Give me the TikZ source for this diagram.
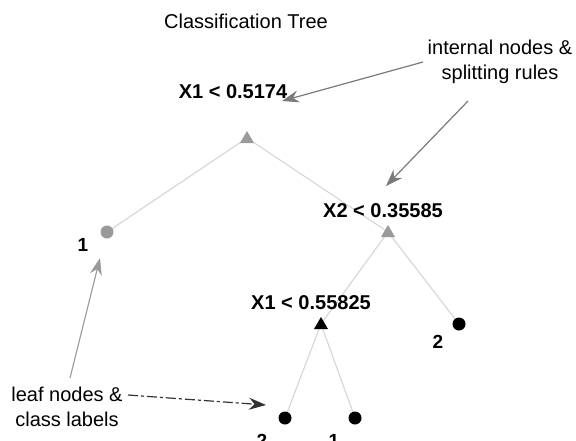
\documentclass[tikz,border=0pt]{standalone}
\usepackage{fontspec}
\setmainfont{Liberation Sans}
\usetikzlibrary{arrows.meta,calc}
\definecolor{edgegray}{HTML}{D8D8D8}
\definecolor{midgray}{HTML}{9A9A9A}
\definecolor{arrgray}{HTML}{7A7A7A}
\tikzset{
  rule/.style={font=\fontsize{20}{24}\selectfont\bfseries, inner sep=0pt},
  leaflab/.style={font=\fontsize{19}{22}\selectfont\bfseries, inner sep=0pt},
  note/.style={font=\fontsize{20}{25}\selectfont, align=center, inner sep=0pt},
  leaf/.style={circle, fill=#1, inner sep=0pt, minimum size=13pt},
  edge/.style={draw=edgegray, line width=1.2pt},
  ann/.style={draw=#1, line width=1.2pt, -{Stealth[length=17pt,width=12pt]}},
}
\begin{document}
\begin{tikzpicture}[x=1pt,y=-1pt]
\useasboundingbox[fill=white] (0,0) rectangle (576,440);
% node positions
\coordinate (t1) at (247,138);
\coordinate (t2) at (388,232);
\coordinate (t3) at (321,324);
\coordinate (p1) at (107,232);
\coordinate (p2) at (459,324);
\coordinate (p3) at (285,418);
\coordinate (p4) at (355,418);
% edges
\draw[edge] (t1) -- (p1);
\draw[edge] (t1) -- (t2);
\draw[edge] (t2) -- (t3);
\draw[edge] (t2) -- (p2);
\draw[edge] (t3) -- (p3);
\draw[edge] (t3) -- (p4);
\node[leaf=midgray] (l1) at (p1) {};
\node[leaf=black] (l2) at (p2) {};
\node[leaf=black] (l3) at (p3) {};
\node[leaf=black] (l4) at (p4) {};
% triangles
\fill[midgray] ($(t1)+(0,-7)$) -- ++(-7,12) -- ++(14,0) -- cycle;
\fill[midgray] ($(t2)+(0,-7)$) -- ++(-7,12) -- ++(14,0) -- cycle;
\fill[black] ($(t3)+(0,-7)$) -- ++(-7,12) -- ++(14,0) -- cycle;
% labels
\node (title) at (246,21) {\fontsize{20}{24}\selectfont Classification Tree};
\node[rule] (r1) at (233,92) {X1 < 0.5174};
\node[rule] (r2) at (383,211) {X2 < 0.35585};
\node[rule] (r3) at (311,303) {X1 < 0.55825};
\node[leaflab] (c1) at (83,245) {1};
\node[leaflab] (c2) at (438,342) {2};
\node[leaflab] (c3) at (262,441) {2};
\node[leaflab] (c4) at (334,441) {1};
% annotations
\node[note] (inote) at (500,62) {internal nodes \&\\splitting rules};
\node[note] (lnote) at (67,407) {leaf nodes \&\\class labels};
\coordinate (a1s) at (423,62);
\coordinate (a1e) at (282,101);
\coordinate (a2s) at (468,101);
\coordinate (a2e) at (386,186);
\coordinate (a3s) at (70,378);
\coordinate (a3e) at (100,258);
\coordinate (a4s) at (128,395);
\coordinate (a4e) at (266,405);
\draw[ann=arrgray] (a1s) -- (a1e);
\draw[ann=arrgray] (a2s) -- (a2e);
\draw[ann=midgray] (a3s) -- (a3e);
\draw[ann=black!80, dash pattern=on 10pt off 3pt on 3pt off 3pt] (a4s) -- (a4e);
\end{tikzpicture}
\end{document}
